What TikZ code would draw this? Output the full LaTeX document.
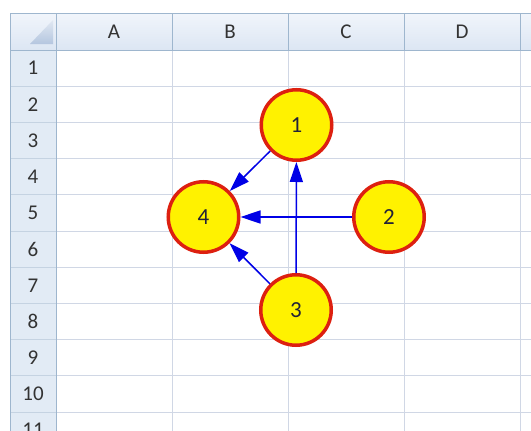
\documentclass[tikz,border=0pt]{standalone}
\usepackage{fontspec}
\setmainfont{Carlito}
\usetikzlibrary{arrows.meta}
\definecolor{hdrTop}{HTML}{F1F5FB}
\definecolor{hdrBot}{HTML}{DCE6F3}
\definecolor{hdrLine}{HTML}{9EB6CE}
\definecolor{gridLine}{HTML}{D0D7E5}
\definecolor{hdrText}{HTML}{333333}
\definecolor{nodeText}{HTML}{222238}
\definecolor{ringRed}{HTML}{DD2010}
\definecolor{arrowBlue}{HTML}{0000E6}
\definecolor{cornerTri}{HTML}{B4C6DF}
\begin{document}
\begin{tikzpicture}[x=1pt,y=-1pt,
  hdrlabel/.style={text=hdrText,font=\fontsize{21}{21}\selectfont,inner sep=0pt},
  ball/.style={circle,draw=ringRed,fill=yellow,line width=3.5pt,minimum size=70.5pt,inner sep=0pt,text=nodeText,font=\fontsize{23}{23}\selectfont},
  link/.style={draw=arrowBlue,line width=1.5pt,-{Triangle[length=20pt,width=13pt]}}]
\useasboundingbox (0,0) rectangle (531,431);
\fill[white] (0,0) rectangle (531,431);
% header backgrounds
\shade[top color=hdrTop,bottom color=hdrBot] (10,13) rectangle (531,50);
\fill[hdrBot!70!hdrTop] (10,50) rectangle (56,431);
% corner triangle
\shade[top color=cornerTri!40!white,bottom color=cornerTri] (30,44) -- (53,20) -- (53,44) -- cycle;
% grid lines
\foreach \x in {172,288,404,520} \draw[gridLine,line width=0.8pt] (\x,50) -- (\x,431);
\foreach \i in {1,...,10} \draw[gridLine,line width=0.8pt] (56,50+36.2*\i) -- (531,50+36.2*\i);
% header separators
\foreach \x in {56,172,288,404,520} \draw[hdrLine,line width=0.8pt] (\x,13) -- (\x,50);
\foreach \i in {1,...,10} \draw[hdrLine!60!white,line width=0.8pt] (10,50+36.2*\i) -- (56,50+36.2*\i);
\draw[hdrLine,line width=1pt] (10,13) -- (531,13);
\draw[hdrLine,line width=1pt] (10,50) -- (531,50);
\draw[hdrLine,line width=1pt] (56,13) -- (56,431);
\draw[hdrLine,line width=1pt] (10,13) -- (10,431);
% column labels
\node[hdrlabel] (colA) at (114,32) {A};
\node[hdrlabel] (colB) at (230,32) {B};
\node[hdrlabel] (colC) at (346,32) {C};
\node[hdrlabel] (colD) at (462,32) {D};
% row labels
\foreach \i in {1,...,11} \node[hdrlabel] (row\i) at (33,50+36.2*\i-18.1) {\i};
% nodes
\node[ball] (n1) at (296.5,125) {1};
\node[ball] (n2) at (389,217) {2};
\node[ball] (n3) at (296,310) {3};
\node[ball] (n4) at (203.5,217) {4};
% connectors
\draw[link] (n2) -- (n4);
\draw[link] (n3) -- (n1);
\draw[link] (n1) -- (n4);
\draw[link] (n3) -- (n4);
\end{tikzpicture}
\end{document}
